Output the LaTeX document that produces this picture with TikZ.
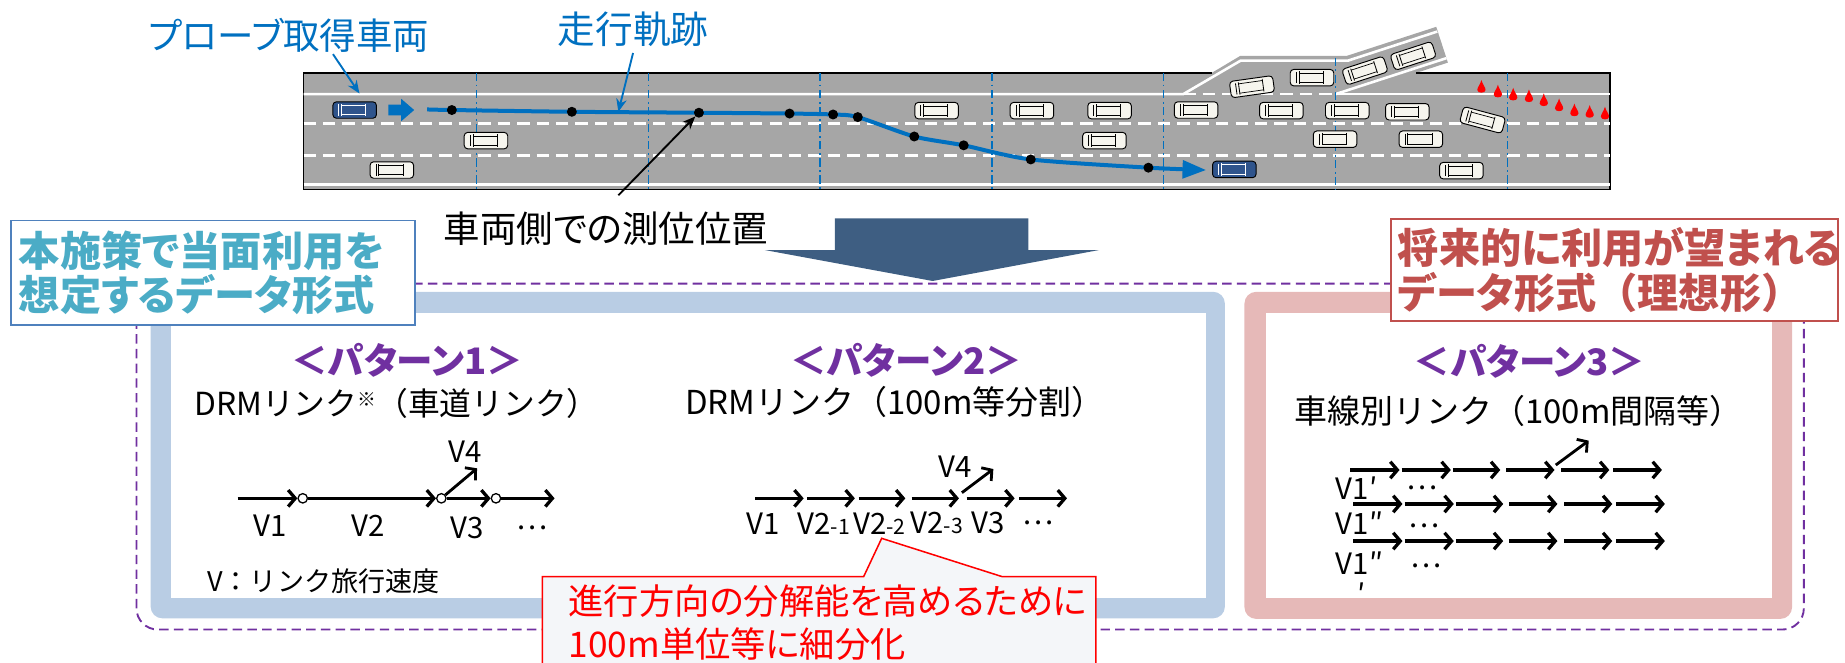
\documentclass[tikz,border=0pt]{standalone}
\usepackage{fontspec}
\setmainfont{Noto Sans CJK JP}[RawFeature=+palt]
\newfontfamily\widefont{Noto Sans CJK JP}
\usetikzlibrary{arrows.meta}

\definecolor{probeblue}{RGB}{0,112,192}
\definecolor{roadgray}{RGB}{166,166,166}
\definecolor{carwhite}{RGB}{246,245,238}
\definecolor{carblue}{RGB}{47,84,140}
\definecolor{bigarrow}{RGB}{62,94,130}
\definecolor{frameblue}{RGB}{185,205,228}
\definecolor{framepink}{RGB}{230,185,184}
\definecolor{patpurple}{RGB}{112,48,160}
\definecolor{tealtext}{RGB}{75,172,198}
\definecolor{boxblue}{RGB}{79,129,189}
\definecolor{futurered}{RGB}{192,80,77}
\definecolor{notefill}{RGB}{244,246,249}

\tikzset{
  pics/car/.style 2 args={code={
    \draw[line width=0.8pt, fill=#1, rounded corners=3pt] (-18.5,-7) rectangle (18.5,7);
    \draw[#2, line width=0.7pt] (-13.5,-4.8) -- (-13.5,4.8) (-11,-5.3) -- (-11,5.3) (9.5,-5.3) -- (9.5,5.3);
    \draw[#2, line width=0.6pt] (-11,-4) -- (9.5,-4) (-11,4) -- (9.5,4);
  }},
  pics/cone/.style={code={
    \fill[red] (0,-7) .. controls (1,-3) and (3.5,-1) .. (3.5,1.5)
      .. controls (3.5,4.5) and (-3.5,4.5) .. (-3.5,1.5)
      .. controls (-3.5,-1) and (-1,-3) .. cycle;
  }},
  lane/.style={white, line width=2.2pt},
  lanedash/.style={lane, dash pattern=on 10.5pt off 6pt},
  linkline/.style={probeblue, line width=1.1pt, dash pattern=on 7pt off 3pt on 1.5pt off 3pt},
  pointer/.style={line width=1.6pt, -{Stealth[length=11pt,width=9pt]}},
  track/.style={probeblue, line width=3.4pt},
  dot/.style={circle, fill=black, inner sep=0pt, minimum size=8.5pt},
  joint/.style={circle, draw=black, fill=white, line width=1.1pt, inner sep=0pt, minimum size=8pt},
  linkarrow/.style={line width=2.8pt, -{Straight Barb[length=6pt,width=14pt]}},
  vlabel/.style={inner sep=0pt, font=\fontsize{25}{25}\selectfont},
  pattitle/.style={inner sep=0pt, text=patpurple, font=\bfseries\fontsize{31}{31}\selectfont},
  subtitle/.style={inner sep=0pt, font=\widefont\fontsize{28}{28}\selectfont},
  tagbox/.style={fill=white, line width=1.3pt, inner sep=0pt, align=left,
    font=\bfseries\fontsize{35}{38}\selectfont},
}

\begin{document}
\begin{tikzpicture}[x=1pt,y=-1pt]
  \useasboundingbox (0,0) rectangle (1568,563);

  % road with the on-ramp
  \fill[roadgray] (1029.7,62) -- (1054,47.5) -- (1144.5,47.5) -- (1220.6,22.8)
    -- (1230.5,53.2) -- (1203.4,62) -- cycle;
  \fill[roadgray] (258,62) rectangle (1368,161);
  \draw[line width=1.5pt] (1029.7,62) -- (258,62) -- (258,161) -- (1368,161) -- (1368,62) -- (1203.4,62);
  \draw[lane] (258,80) -- (1005.6,80) -- (1054.4,51.5) -- (1145.7,51.5) -- (1221.5,26.8);
  \draw[lane] (1135,80) -- (1368,80);
  \draw[lane] (1135,80) -- (1229.3,49.4);
  \draw[lanedash] (1005.6,80) -- (1135,80);
  \draw[lanedash] (258,105) -- (1368,105);
  \draw[lanedash] (258,132) -- (1368,132);
  \draw[lane] (258,157) -- (1368,157);
  \foreach \x in {405,551,697,843,989} {
    \draw[linkline] (\x,62) -- (\x,161);
  }
  \draw[linkline] (1135,49) -- (1135,161);
  \draw[linkline] (1281,62) -- (1281,161);

  % probe vehicle trace
  \fill[probeblue] (330,89) -- (341,89) -- (341,84) -- (352,93.5) -- (341,103) -- (341,98) -- (330,98) -- cycle;
  \draw[track, -{Triangle[length=20pt,width=15pt]}] plot[smooth, tension=0.45] coordinates {
    (363,93) (384,93.5) (486,95) (594,95.8) (671,96.5) (708,97.3) (729,99.5)
    (777,116) (819,123.5) (876,135.5) (976,142.5) (1025,144.5)};
  \foreach \x/\y [count=\i] in {384/93.5,486/95,594/95.8,671/96.5,708/97.3,729/99.5,777/116,819/123.5,876/135.5,976/142.5} {
    \node[dot] (p\i) at (\x,\y) {};
  }

  % traffic
  \pic at (301.4,93.5) {car={carblue}{white}};
  \pic at (1049,144) {car={carblue}{white}};
  \foreach \x/\y/\r in {413/119.5/0, 333/144.5/0, 796/94/0, 877/94/0, 943/94/0, 1016.5/93.5/0,
      1089/94/0, 1145/94/0, 1196/95/0, 938.6/119.5/0, 1134.6/118.3/0, 1207.5/118.3/0,
      1242/145/0, 1064/73.7/8, 1115/66/0, 1160/60/18, 1201/47.5/18, 1260/102/-15} {
    \pic[rotate=\r] at (\x,\y) {car={carwhite}{black}};
  }
  \foreach \x/\y in {1259/75,1273/79,1286/81.6,1299.4/83,1312/86.4,1325/90.7,1338/95,1351/96.3,1364/97.7} {
    \pic at (\x,\y) {cone};
  }

  % labels on the road picture
  \node[inner sep=0pt, text=probeblue, font=\fontsize{31}{31}\selectfont] (probelabel) at (245.5,30) {プローブ取得車両};
  \node[inner sep=0pt, text=probeblue, font=\fontsize{32}{32}\selectfont] (tracklabel) at (538,25) {走行軌跡};
  \node[inner sep=0pt, font=\fontsize{31}{31}\selectfont] (fixlabel) at (515,194) {車両側での測位位置};
  \coordinate (probefoot) at (283,46);
  \coordinate (probetip) at (305.5,79.5);
  \coordinate (trackfoot) at (538,45);
  \coordinate (tracktip) at (525.5,95);
  \coordinate (fixfoot) at (525.5,166);
  \draw[pointer, probeblue] (probefoot) -- (probetip);
  \draw[pointer, probeblue] (trackfoot) -- (tracktip);
  \draw[pointer] (fixfoot) -- (p3);

  \fill[bigarrow] (709.6,185.5) -- (874,185.5) -- (874,212.5) -- (934,212.5) -- (792.6,238.8)
    -- (650,212.5) -- (709.6,212.5) -- cycle;

  % data formats
  \draw[patpurple, line width=1.6pt, dash pattern=on 8pt off 4.5pt, rounded corners=18pt] (116,241) rectangle (1533,535);
  \fill[frameblue, rounded corners=10pt] (128,248) rectangle (1041,525.5);
  \fill[white] (145,266) rectangle (1025,508.5);
  \fill[framepink, rounded corners=10pt] (1057.6,248) rectangle (1523,526);
  \fill[white] (1075.7,266) rectangle (1505.8,508);

  \node[tagbox, draw=boxblue, text=tealtext, minimum width=343pt, minimum height=88.5pt, text width=330pt]
    (nowbox) at (181,231.8) {本施策で当面利用を\\想定するデータ形式};
  \node[tagbox, draw=futurered, text=futurered, minimum width=380pt, minimum height=87pt, text width=368pt]
    (futurebox) at (1372,229.5) {将来的に利用が望まれる\\データ形式{\widefont （}理想形{\widefont ）}};

  \node[pattitle] (pat1) at (346,306.5) {＜パターン1＞};
  \node[pattitle] (pat2) at (770,306.5) {＜パターン2＞};
  \node[pattitle] (pat3) at (1300,307) {＜パターン3＞};
  \node[subtitle, font=\widefont\fontsize{27}{27}\selectfont] (sub1) at (337,343)
    {DRMリンク\raisebox{8pt}{\fontsize{16}{16}\selectfont ※}（車道リンク）};
  \node[subtitle] (sub2) at (760.5,342) {DRMリンク（100m等分割）};
  \node[subtitle] (sub3) at (1290.5,349) {車線別リンク（100m間隔等）};

  % pattern 1: one speed per DRM link
  \coordinate (a0) at (202,423.5);
  \node[joint] (j1) at (257.3,423.5) {};
  \node[joint] (j2) at (375.1,423.5) {};
  \node[joint] (j3) at (421.5,423.5) {};
  \coordinate (a4) at (471.3,423.5);
  \coordinate (a5) at (405.4,398);
  \draw[linkarrow] (a0) -- (j1);
  \draw[linkarrow] (j1) -- (j2);
  \draw[linkarrow] (j2) -- (j3);
  \draw[linkarrow] (j3) -- (a4);
  \draw[linkarrow, line width=2.4pt] (j2) -- (a5);
  \node[vlabel] (v1) at (229.7,447) {V1};
  \node[vlabel] (v2) at (312.7,447) {V2};
  \node[vlabel] (v3) at (397.2,448.5) {V3};
  \node[vlabel] (v4) at (395.6,383.8) {V4};
  \node[vlabel] (vdots) at (452.5,449) {…};
  \node[inner sep=0pt, anchor=west, font=\widefont\fontsize{23}{23}\selectfont] (legend) at (176,494) {V：リンク旅行速度};

  % pattern 2: DRM links cut every 100m
  \foreach \s/\e [count=\i] in {642/683,686/726.5,729.6/769.4,774.7/815,821.4/862.3,866/906.8} {
    \coordinate (s\i) at (\s,423.5);
    \coordinate (e\i) at (\e,423.5);
    \draw[linkarrow] (s\i) -- (e\i);
  }
  \coordinate (q0) at (817.5,418.7);
  \coordinate (q1) at (844.2,398.6);
  \draw[linkarrow, line width=2.4pt] (q0) -- (q1);
  \node[vlabel] (w1) at (648.8,444.7) {V1};
  \node[vlabel] (w21) at (700,444.7) {V2{\fontsize{18}{18}\selectfont -1}};
  \node[vlabel] (w22) at (747.5,444.7) {V2{\fontsize{18}{18}\selectfont -2}};
  \node[vlabel] (w23) at (796,444.7) {V2{\fontsize{18}{18}\selectfont -3}};
  \node[vlabel] (w3) at (839.6,444.7) {V3};
  \node[vlabel] (w4) at (812,396.6) {V4};
  \node[vlabel] (wdots) at (882,444.7) {…};

  % pattern 3: links per lane
  \foreach \y/\dx [count=\r] in {399.4/0,428.3/2.5,459.8/2.5} {
    \foreach \s/\e [count=\i] in {1147.4/1189.4,1191.2/1233,1234.8/1275,1280.3/1321.1,1326.8/1367.7,1371.2/1412.4} {
      \coordinate (r\r s\i) at (\s+\dx,\y);
      \coordinate (r\r e\i) at (\e+\dx,\y);
      \draw[linkarrow] (r\r s\i) -- (r\r e\i);
    }
  }
  \coordinate (t0) at (1322.2,395.2);
  \coordinate (t1) at (1350.2,374.5);
  \draw[linkarrow, line width=2.4pt] (t0) -- (t1);
  \node[vlabel, anchor=west] (u1) at (1135,415) {V1′};
  \node[vlabel, anchor=west] (u2) at (1135,444.7) {V1″};
  \node[vlabel, anchor=west] (u3) at (1135,478.7) {V1″};
  \node[vlabel, anchor=north] (u3p) at (1157,495) {′};
  \node[vlabel] (udots1) at (1208.5,415) {…};
  \node[vlabel] (udots2) at (1210,447) {…};
  \node[vlabel] (udots3) at (1212,481) {…};

  % note on pattern 2
  \filldraw[fill=notefill, draw=red, line width=1.3pt] (461,566) -- (461,490) -- (734,490) -- (749.3,457.5)
    -- (851.5,490) -- (931.4,490) -- (931.4,566);
  \node[anchor=west, align=left, inner sep=0pt, text=red, font=\fontsize{30}{36.5}\selectfont]
    (notetext) at (483,529) {進行方向の分解能を高めるために\\100m単位等に細分化};
\end{tikzpicture}
\end{document}
